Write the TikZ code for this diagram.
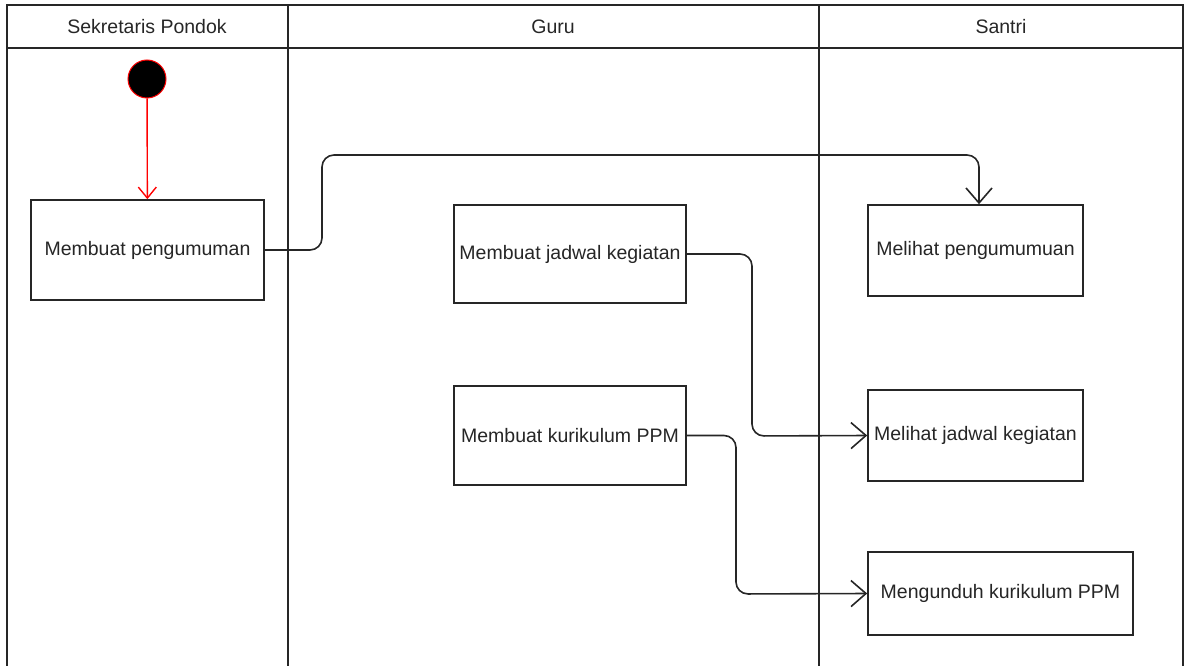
\documentclass[tikz,border=0pt]{standalone}
\usepackage{fontspec}
\setmainfont{Liberation Sans}
\usetikzlibrary{arrows.meta}
\definecolor{txt}{HTML}{262626}
\begin{document}
\begin{tikzpicture}[x=1pt,y=-1pt,
  lane/.style={draw=black!85,line width=1.6pt},
  act/.style={draw=black!85,line width=1.6pt,fill=white,inner sep=0pt,
    font=\fontsize{19.5}{22}\selectfont,text=txt},
  head/.style={font=\fontsize{19.5}{22}\selectfont,text=txt},
  flow/.style={draw=black!85,line width=1.6pt,rounded corners=12pt,
    -{Straight Barb[length=15pt,width=26pt,line width=1.6pt]}},
  startflow/.style={draw=red,line width=1.4pt,
    -{Straight Barb[length=11pt,width=18pt,line width=1.4pt]}}]
\useasboundingbox (0,0) rectangle (1186,666);

% swimlane frame and headers
\draw[lane] (7,666) -- (7,5) -- (1183,5) -- (1183,666);
\draw[lane] (7,48) -- (1183,48);
\draw[lane] (288,5) -- (288,666);
\draw[lane] (819,5) -- (819,666);
\node[head] (h1) at (147,27) {Sekretaris Pondok};
\node[head] (h2) at (553,27) {Guru};
\node[head] (h3) at (1001,27) {Santri};

% initial node
\node[circle,fill=black,draw=red,line width=1pt,minimum size=38pt,inner sep=0pt] (start) at (147,79) {};

% activities
\node[act,minimum width=233pt,minimum height=100pt] (b1) at (147.5,250) {Membuat pengumuman};
\node[act,minimum width=232pt,minimum height=98pt] (b2) at (570,254) {Membuat jadwal kegiatan};
\node[act,minimum width=232pt,minimum height=99pt] (b3) at (570,435.5) {Membuat kurikulum PPM};
\node[act,minimum width=215pt,minimum height=91pt] (b4) at (975.5,250.5) {Melihat pengumumuan};
\node[act,minimum width=215pt,minimum height=91pt] (b5) at (975.5,435.5) {Melihat jadwal kegiatan};
\node[act,minimum width=265pt,minimum height=83pt] (b6) at (1000.5,593.5) {Mengunduh kurikulum PPM};

% bend points of the connectors
\coordinate (c1) at (322,155);
\coordinate (c4) at (979,155);
\coordinate (c2) at (752,436);
\coordinate (c3) at (736,594);

% flows
\draw[startflow] (start) -- (b1);
\draw[flow] (b1.east) -| (c1) -- (c4) -- (b4.north -| c4);
\draw[flow] (b2.east) -| (c2) -- (b5.west);
\draw[flow] (b3.east) -| (c3) -- (b6.west);
\end{tikzpicture}
\end{document}
